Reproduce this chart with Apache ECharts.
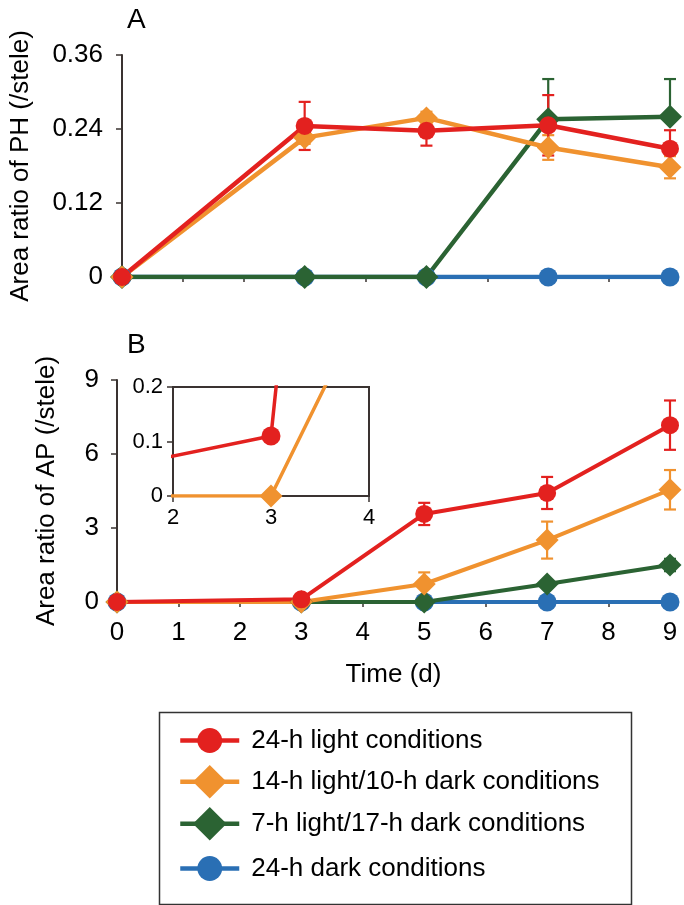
<!DOCTYPE html>
<html>
<head>
<meta charset="utf-8">
<script src="https://cdn.jsdelivr.net/npm/echarts@6/dist/echarts.min.js"></script>
<style>
html,body{margin:0;padding:0;background:#fff;}
#chart{width:684px;height:905px;}
</style>
</head>
<body>
<div id="chart"></div>
<script>
// ---------------- data ----------------
const days = [0, 3, 5, 7, 9];
const seriesNames = [
  '24-h light conditions',
  '14-h light/10-h dark conditions',
  '7-h light/17-h dark conditions',
  '24-h dark conditions'
];
const xTicks = [0, 1, 2, 3, 4, 5, 6, 7, 8, 9];

// Panel A: area ratio of PH
const phLight24 = [0, 0.245, 0.237, 0.246, 0.208];
const phLight24Err = [0, 0.039, 0.024, 0.049, 0.030];
const phLight14 = [0, 0.226, 0.258, 0.210, 0.178];
const phLight14Err = [0, 0.010, 0.010, 0.020, 0.018];
const phLight7 = [0, 0, 0, 0.256, 0.260];
const phLight7ErrUp = [0, 0, 0, 0.065, 0.061];
const phLight7ErrDown = [0, 0, 0, 0, 0];
const phDark24 = [0, 0, 0, 0, 0];

// Panel B: area ratio of AP
const apLight24 = [0, 0.11, 3.57, 4.42, 7.17];
const apLight24Err = [0, 0, 0.45, 0.65, 1.0];
const apLight14 = [0, 0, 0.73, 2.51, 4.55];
const apLight14Err = [0, 0, 0.47, 0.75, 0.80];
const apLight7 = [0, 0, 0, 0.73, 1.50];
const apLight7Err = [0, 0, 0, 0.15, 0.25];
const apDark24 = [0, 0, 0, 0, 0];

// ---------------- style ----------------
const FONT = 'Liberation Sans, Arial, Helvetica, sans-serif';
const C = { red: '#e3211f', orange: '#f0922f', green: '#2b6333', blue: '#2a6fb4' };
const AXIS = '#3a3331';

const chart = echarts.init(document.getElementById('chart'), null, { renderer: 'canvas' });

function pts(vals) { return days.map((d, i) => [d, vals[i]]); }
function errPts(vals, up, down) {
  return days.map((d, i) => [d, vals[i] - down[i], vals[i] + up[i], vals[i]]);
}

function lineSeries(name, vals, color, symbol, size, width, xi, yi, extra) {
  return Object.assign({
    type: 'line', name: name, data: pts(vals), xAxisIndex: xi, yAxisIndex: yi,
    symbol: symbol, symbolSize: size, showAllSymbol: true,
    lineStyle: { color: color, width: width },
    itemStyle: { color: color, borderWidth: 0 },
    emphasis: { disabled: true }, animation: false
  }, extra || {});
}

function errSeries(vals, up, down, color, xi, yi) {
  return {
    type: 'custom', xAxisIndex: xi, yAxisIndex: yi, animation: false,
    data: errPts(vals, up, down),
    encode: { x: 0, y: [1, 2] },
    renderItem: function (params, api) {
      const x = api.value(0), lo = api.value(1), hi = api.value(2), v = api.value(3);
      if (hi === lo) return null;
      const pLo = api.coord([x, lo]), pHi = api.coord([x, hi]);
      const w = 6;
      const st = { stroke: color, lineWidth: 2.2 };
      const ch = [{ type: 'line', shape: { x1: pLo[0], y1: pLo[1], x2: pHi[0], y2: pHi[1] }, style: st }];
      if (hi > v) ch.push({ type: 'line', shape: { x1: pHi[0] - w, y1: pHi[1], x2: pHi[0] + w, y2: pHi[1] }, style: st });
      if (lo < v) ch.push({ type: 'line', shape: { x1: pLo[0] - w, y1: pLo[1], x2: pLo[0] + w, y2: pLo[1] }, style: st });
      return { type: 'group', children: ch };
    }
  };
}

const axisLabelStyle = { fontSize: 26, fontFamily: FONT, color: '#000' };

function xAxisCfg(gi, showLabels, extra) {
  return Object.assign({
    type: 'value', gridIndex: gi, min: 0, max: 9, interval: 1,
    axisLine: { show: true, onZero: false, lineStyle: { color: AXIS, width: 2 } },
    axisTick: { show: true, length: 5, lineStyle: { color: AXIS, width: 1.5 } },
    axisLabel: { show: showLabels, margin: 18, ...axisLabelStyle },
    splitLine: { show: false }
  }, extra || {});
}

function yAxisCfg(gi, max, interval, name, gap, labelMargin) {
  return {
    type: 'value', gridIndex: gi, min: 0, max: max, interval: interval,
    name: name, nameLocation: 'middle', nameGap: gap, nameRotate: 90,
    nameTextStyle: { fontSize: 26, fontFamily: FONT, color: '#000' },
    axisLine: { show: true, onZero: false, lineStyle: { color: AXIS, width: 2 } },
    axisTick: { show: true, length: 6, lineStyle: { color: AXIS, width: 1.5 } },
    axisLabel: { margin: labelMargin, ...axisLabelStyle },
    splitLine: { show: false }
  };
}

const legendRowsCenter = [743, 786, 828, 871];
const legendIconH = [31, 42, 42, 31];
const legendColors = [C.red, C.orange, C.green, C.blue];

const series = [
  // Panel A (grid 0)
  lineSeries(seriesNames[3], phDark24, C.blue, 'circle', 19, 4.5, 0, 0),
  lineSeries(seriesNames[2], phLight7, C.green, 'diamond', 24, 4.5, 0, 0),
  errSeries(phLight7, phLight7ErrUp, phLight7ErrDown, C.green, 0, 0),
  lineSeries(seriesNames[1], phLight14, C.orange, 'diamond', 23, 4.5, 0, 0),
  errSeries(phLight14, phLight14Err, phLight14Err, C.orange, 0, 0),
  lineSeries(seriesNames[0], phLight24, C.red, 'circle', 18, 4.5, 0, 0),
  errSeries(phLight24, phLight24Err, phLight24Err, C.red, 0, 0),
  // Panel B (grid 1)
  lineSeries(seriesNames[3], apDark24, C.blue, 'circle', 19, 4, 1, 1),
  lineSeries(seriesNames[2], apLight7, C.green, 'diamond', 23, 4, 1, 1),
  errSeries(apLight7, apLight7Err, apLight7Err, C.green, 1, 1),
  lineSeries(seriesNames[1], apLight14, C.orange, 'diamond', 23, 4, 1, 1),
  errSeries(apLight14, apLight14Err, apLight14Err, C.orange, 1, 1),
  lineSeries(seriesNames[0], apLight24, C.red, 'circle', 18, 4, 1, 1),
  errSeries(apLight24, apLight24Err, apLight24Err, C.red, 1, 1),
  // Inset (grid 2)
  lineSeries(seriesNames[1], apLight14, C.orange, 'diamond', 23, 3.5, 2, 2, { clip: true }),
  lineSeries(seriesNames[0], apLight24, C.red, 'circle', 19, 3.5, 2, 2, { clip: true })
];

const option = {
  backgroundColor: '#fff',
  animation: false,
  textStyle: { fontFamily: FONT },
  grid: [
    { left: 117, right: 14, top: 55, height: 222 },
    { left: 117, right: 14, top: 380, height: 222 },
    { left: 173, top: 387, width: 196, height: 109, show: true, borderColor: AXIS, borderWidth: 2, backgroundColor: 'rgba(0,0,0,0)' }
  ],
  xAxis: [
    xAxisCfg(0, false),
    xAxisCfg(1, true, { name: 'Time (d)', nameLocation: 'middle', nameGap: 60,
      nameTextStyle: { fontSize: 26, fontFamily: FONT, color: '#000' } }),
    {
      type: 'value', gridIndex: 2, min: 2, max: 4, interval: 1,
      axisLine: { show: true, onZero: false, lineStyle: { color: AXIS, width: 2 } },
      axisTick: { show: true, length: 6, lineStyle: { color: AXIS, width: 1.5 } },
      axisLabel: { margin: 11, fontSize: 22, fontFamily: FONT, color: '#000' },
      splitLine: { show: false }
    }
  ],
  yAxis: [
    yAxisCfg(0, 0.36, 0.12, 'Area ratio of PH (/stele)', 88, 19),
    yAxisCfg(1, 9, 3, 'Area ratio of AP (/stele)', 57, 18),
    {
      type: 'value', gridIndex: 2, min: 0, max: 0.2, interval: 0.1,
      axisLine: { show: true, onZero: false, lineStyle: { color: AXIS, width: 2 } },
      axisTick: { show: true, length: 6, lineStyle: { color: AXIS, width: 1.5 } },
      axisLabel: { margin: 10, fontSize: 22, fontFamily: FONT, color: '#000' },
      splitLine: { show: false }
    }
  ],
  legend: seriesNames.map((n, i) => ({
    data: [n], orient: 'vertical', left: 178,
    top: legendRowsCenter[i] - legendIconH[i] / 2,
    itemWidth: 59, itemHeight: legendIconH[i], padding: 0,
    selectedMode: false,
    lineStyle: { width: 4.5, color: legendColors[i] },
    textStyle: { fontSize: 26, fontFamily: FONT, color: '#000', padding: [0, 0, 0, 7] }
  })),
  graphic: [
    { type: 'text', left: 127, top: 6, style: { text: 'A', fontSize: 28, fontFamily: FONT, fill: '#000' } },
    { type: 'text', left: 127, top: 331, style: { text: 'B', fontSize: 28, fontFamily: FONT, fill: '#000' } },
    { type: 'rect', left: 157, top: 710, shape: { width: 472, height: 192 },
      style: { fill: 'none', stroke: '#333', lineWidth: 1.5 } }
  ],
  series: series
};

chart.setOption(option);
</script>
</body>
</html>
